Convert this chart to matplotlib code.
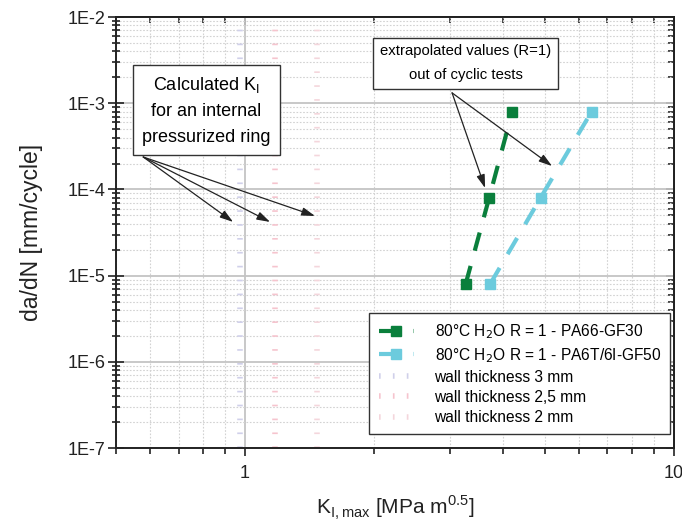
import numpy as np
import matplotlib
matplotlib.use("Agg")
import matplotlib.pyplot as plt
from matplotlib.ticker import LogLocator, NullFormatter, FixedLocator, FixedFormatter

plt.rcParams['font.family'] = ['Liberation Sans', 'DejaVu Sans']

# crack growth rate vs max. stress intensity, R = 1, 80 C water
K_pa66 = [3.27, 3.71, 4.20]
dadn_pa66 = [8e-6, 8e-5, 8e-4]
K_pa6t = [3.73, 4.89, 6.43]
dadn_pa6t = [8e-6, 8e-5, 8e-4]

# calculated K_I for the pressurized ring (vertical marks)
wall_labels = ['wall thickness 3 mm', 'wall thickness 2,5 mm', 'wall thickness 2 mm']
wall_K = [0.973, 1.175, 1.47]
wall_colors = ['#d0d0ea', '#f6c4ce', '#f4d6dc']
y_span = [1e-7, 1e-2]

green = '#0a7f3c'
cyan = '#6ccbdd'

fig = plt.figure(figsize=(6.82, 5.22), dpi=100)
ax = fig.add_axes([0.170, 0.1416, 0.818, 0.8257])
ax.set_xscale('log')
ax.set_yscale('log')
ax.set_xlim(0.5, 10)
ax.set_ylim(1e-7, 1e-2)

# grid: solid major, dotted minor
ax.grid(True, which='major', color='#c4c4c4', lw=1.3, ls='-', zorder=0)
ax.grid(True, which='minor', color='#d2d2d2', lw=0.8, ls=(0, (1.5, 1.5)), zorder=0)
ax.set_axisbelow(True)

l1, = ax.plot(K_pa66, dadn_pa66, color=green, lw=3.0, ls=(0, (4.5, 3.8)),
              marker='s', ms=6.5, mec=green, mfc=green, zorder=4,
              label=r'80°C H$_2$O R = 1 - PA66-GF30')
l2, = ax.plot(K_pa6t, dadn_pa6t, color=cyan, lw=3.0, ls=(0, (4.5, 3.8)),
              marker='s', ms=6.5, mec=cyan, mfc=cyan, zorder=4,
              label=r'80°C H$_2$O R = 1 - PA6T/6I-GF50')
wl = []
for k, c, lab in zip(wall_K, wall_colors, wall_labels):
    h, = ax.plot([k, k], y_span, color=c, lw=4, ls=(0, (0.3, 2.2)), zorder=2, label=lab)
    wl.append(h)

leg = ax.legend(handles=[l1, l2] + wl, loc='lower right', bbox_to_anchor=(0.994, 0.032),
                fontsize=11.2, frameon=True, fancybox=False, framealpha=1,
                edgecolor='#333333', handlelength=2.3, borderpad=0.6,
                labelspacing=0.33, handletextpad=1.3, borderaxespad=0)
leg.get_frame().set_linewidth(1.0)

# annotation boxes with arrows
box = dict(boxstyle='square,pad=0.5', fc='white', ec='#333333', lw=1.0)
ax.text(0.813, 8.25e-4, 'Calculated K$_\\mathregular{I}$\nfor an internal\npressurized ring',
        ha='center', va='center', fontsize=13, linespacing=1.65, bbox=box, zorder=6)
src1 = (0.579, 2.38e-4)
for tip in [(0.938, 4.2e-5), (1.144, 4.2e-5), (1.456, 4.93e-5)]:
    ax.annotate('', xy=tip, xytext=src1,
                arrowprops=dict(arrowstyle='-|>,head_length=0.8,head_width=0.25',
                                color='#222222', lw=0.9, shrinkA=0, shrinkB=0), zorder=5)

ax.text(3.27, 2.9e-3, 'extrapolated values (R=1)\nout of cyclic tests',
        ha='center', va='center', fontsize=10.7, linespacing=1.9,
        bbox=dict(boxstyle='square,pad=0.45', fc='white', ec='#333333', lw=1.0), zorder=6)
src2 = (3.04, 1.32e-3)
for tip in [(3.63, 1.04e-4), (5.20, 1.87e-4)]:
    ax.annotate('', xy=tip, xytext=src2,
                arrowprops=dict(arrowstyle='-|>,head_length=0.8,head_width=0.25',
                                color='#222222', lw=0.9, shrinkA=0, shrinkB=0), zorder=5)

# ticks
ax.xaxis.set_major_locator(FixedLocator([1, 10]))
ax.xaxis.set_major_formatter(FixedFormatter(['1', '10']))
ax.xaxis.set_minor_locator(LogLocator(base=10, subs=np.arange(2, 10)))
ax.xaxis.set_minor_formatter(NullFormatter())
ydec = [1e-7, 1e-6, 1e-5, 1e-4, 1e-3, 1e-2]
ax.yaxis.set_major_locator(FixedLocator(ydec))
ax.yaxis.set_major_formatter(FixedFormatter(['1E-7', '1E-6', '1E-5', '1E-4', '1E-3', '1E-2']))
ax.yaxis.set_minor_locator(LogLocator(base=10, subs=np.arange(2, 10)))
ax.yaxis.set_minor_formatter(NullFormatter())

ax.tick_params(axis='x', which='major', direction='out', length=6, width=1.2,
               labelsize=13, pad=6, colors='#222222', labelcolor='#222222')
ax.tick_params(axis='x', which='minor', direction='out', length=4, width=1.2, colors='#222222')
ax.tick_params(axis='y', which='major', direction='inout', length=11, width=1.2,
               labelsize=13, pad=2, colors='#222222', labelcolor='#222222')
ax.tick_params(axis='y', which='minor', direction='inout', length=6, width=1.2, colors='#222222')

for s in ax.spines.values():
    s.set_linewidth(1.4)
    s.set_color('#222222')

# top and right ticks pointing inward
top = ax.secondary_xaxis('top', functions=(lambda x: x, lambda x: x))
top.set_xscale('log')
top.xaxis.set_major_locator(FixedLocator([1, 10]))
top.xaxis.set_minor_locator(LogLocator(base=10, subs=np.arange(2, 10)))
top.xaxis.set_major_formatter(NullFormatter())
top.xaxis.set_minor_formatter(NullFormatter())
top.tick_params(which='major', direction='in', length=6, width=1.2, colors='#222222')
top.tick_params(which='minor', direction='in', length=4, width=1.2, colors='#222222')
top.spines['top'].set_linewidth(1.4)

right = ax.secondary_yaxis('right', functions=(lambda y: y, lambda y: y))
right.set_yscale('log')
right.yaxis.set_major_locator(FixedLocator(ydec))
right.yaxis.set_minor_locator(LogLocator(base=10, subs=np.arange(2, 10)))
right.yaxis.set_major_formatter(NullFormatter())
right.yaxis.set_minor_formatter(NullFormatter())
right.tick_params(which='major', direction='in', length=6, width=1.2, colors='#222222')
right.tick_params(which='minor', direction='in', length=4, width=1.2, colors='#222222')
right.spines['right'].set_linewidth(1.4)

ax.set_xlabel('K$_\\mathregular{I,max}$ [MPa m$^\\mathregular{0.5}$]', fontsize=15, labelpad=9,
              color='#222222')
ax.set_ylabel('da/dN [mm/cycle]', fontsize=16.5, labelpad=18, color='#222222')

fig.savefig('out.png', dpi=100)
